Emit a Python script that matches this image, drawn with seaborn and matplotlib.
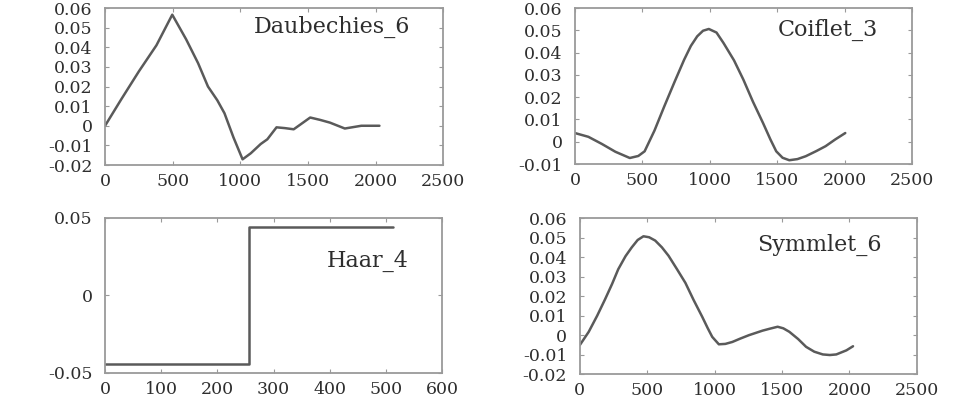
import matplotlib
matplotlib.use("Agg")
import matplotlib.pyplot as plt
import seaborn as sns
import pandas as pd

# Daubechies_6 wavelet (sample index vs amplitude)
daub_x = [0, 120, 250, 380, 497, 600, 688, 761, 830, 883, 950, 1017,
          1078, 1151, 1200, 1268, 1330, 1395, 1517, 1590, 1663, 1773, 1895, 2029]
daub_y = [0.0, 0.0135, 0.0277, 0.0410, 0.0566, 0.0440, 0.0319, 0.0200, 0.0130, 0.0064,
          -0.0060, -0.0171, -0.0140, -0.0093, -0.0069, -0.0008, -0.0012, -0.0018,
          0.0042, 0.0030, 0.0016, -0.0014, 0.0, 0.0]

# Coiflet_3 wavelet
coif_x = [0, 100, 200, 300, 407, 470, 517, 590, 663, 740, 810, 860, 907, 950, 993,
          1050, 1102, 1180, 1249, 1320, 1395, 1450, 1493, 1540, 1590, 1650, 1712,
          1790, 1859, 1930, 2005]
coif_y = [0.0039, 0.0022, -0.0010, -0.0045, -0.0073, -0.0064, -0.0043, 0.0050,
          0.0159, 0.0270, 0.0368, 0.0430, 0.0473, 0.0498, 0.0506, 0.0490, 0.0443,
          0.0365, 0.0279, 0.0180, 0.0084, 0.0010, -0.0043, -0.0072, -0.0083,
          -0.0078, -0.0065, -0.0042, -0.0020, 0.0010, 0.0039]

# Haar_4 wavelet
haar_x = [0, 256, 256, 512]
haar_y = [-0.0442, -0.0442, 0.0442, 0.0442]

# Symmlet_6 wavelet
sym_x = [0, 67, 130, 187, 240, 286, 340, 386, 430, 473, 515, 560, 610, 659, 720,
         784, 845, 908, 950, 983, 1032, 1080, 1132, 1190, 1256, 1356, 1410, 1468,
         1510, 1555, 1620, 1679, 1740, 1803, 1855, 1903, 1978, 2027]
sym_y = [-0.0052, 0.0017, 0.0100, 0.0182, 0.0262, 0.0338, 0.0405, 0.0450, 0.0488,
         0.0507, 0.0502, 0.0485, 0.0450, 0.0407, 0.0340, 0.0268, 0.0180, 0.0095,
         0.0035, -0.0009, -0.0047, -0.0045, -0.0035, -0.0018, 0.0000, 0.0023,
         0.0033, 0.0043, 0.0035, 0.0017, -0.0020, -0.0060, -0.0085, -0.0099,
         -0.0102, -0.0099, -0.0078, -0.0057]

panels = [
    dict(name="Daubechies_6", x=daub_x, y=daub_y,
         rect=[0.110, 0.5885, 0.354, 0.3915],
         xlim=(0, 2500), xticks=[0, 500, 1000, 1500, 2000, 2500],
         ylim=(-0.02, 0.06), yticks=[-0.02, -0.01, 0, 0.01, 0.02, 0.03, 0.04, 0.05, 0.06],
         ytl=["-0.02", "-0.01", "0", "0.01", "0.02", "0.03", "0.04", "0.05", "0.06"],
         lab=(0.67, 0.88)),
    dict(name="Coiflet_3", x=coif_x, y=coif_y,
         rect=[0.602, 0.591, 0.353, 0.389],
         xlim=(0, 2500), xticks=[0, 500, 1000, 1500, 2000, 2500],
         ylim=(-0.01, 0.06), yticks=[-0.01, 0, 0.01, 0.02, 0.03, 0.04, 0.05, 0.06],
         ytl=["-0.01", "0", "0.01", "0.02", "0.03", "0.04", "0.05", "0.06"],
         lab=(0.75, 0.86)),
    dict(name="Haar_4", x=haar_x, y=haar_y,
         rect=[0.110, 0.070, 0.353, 0.3865],
         xlim=(0, 600), xticks=[0, 100, 200, 300, 400, 500, 600],
         ylim=(-0.05, 0.05), yticks=[-0.05, 0, 0.05],
         ytl=["-0.05", "0", "0.05"],
         lab=(0.78, 0.72)),
    dict(name="Symmlet_6", x=sym_x, y=sym_y,
         rect=[0.607, 0.067, 0.353, 0.389],
         xlim=(0, 2500), xticks=[0, 500, 1000, 1500, 2000, 2500],
         ylim=(-0.02, 0.06), yticks=[-0.02, -0.01, 0, 0.01, 0.02, 0.03, 0.04, 0.05, 0.06],
         ytl=["-0.02", "-0.01", "0", "0.01", "0.02", "0.03", "0.04", "0.05", "0.06"],
         lab=(0.71, 0.83)),
]

sns.set_theme(style="ticks")
plt.rcParams["font.family"] = ["DejaVu Serif"]

fig = plt.figure(figsize=(9.55, 4.01), dpi=100)
fig.patch.set_facecolor("white")

line_color = "#5a5a5a"
frame_color = "#9a9a9a"
text_color = "#2e2e2e"

for p in panels:
    ax = fig.add_axes(p["rect"])
    df = pd.DataFrame({"x": p["x"], "y": p["y"]})
    sns.lineplot(data=df, x="x", y="y", ax=ax, sort=False, estimator=None,
                 color=line_color, linewidth=1.8)
    ax.set_xlim(*p["xlim"])
    ax.set_ylim(*p["ylim"])
    ax.set_xticks(p["xticks"])
    ax.set_xticklabels([str(t) for t in p["xticks"]])
    ax.set_yticks(p["yticks"])
    ax.set_yticklabels(p["ytl"])
    ax.set_xlabel("")
    ax.set_ylabel("")
    for s in ax.spines.values():
        s.set_visible(True)
        s.set_color(frame_color)
        s.set_linewidth(1.3)
    ax.tick_params(direction="in", length=3, width=0.8, color=frame_color,
                   top=True, right=True, labelsize=12.5, labelcolor=text_color)
    ax.tick_params(axis="y", pad=9)
    ax.tick_params(axis="x", pad=6)
    ax.text(p["lab"][0], p["lab"][1], p["name"], transform=ax.transAxes,
            ha="center", va="center", fontsize=16, color=text_color)

fig.savefig("out.png", dpi=100, facecolor="white")
